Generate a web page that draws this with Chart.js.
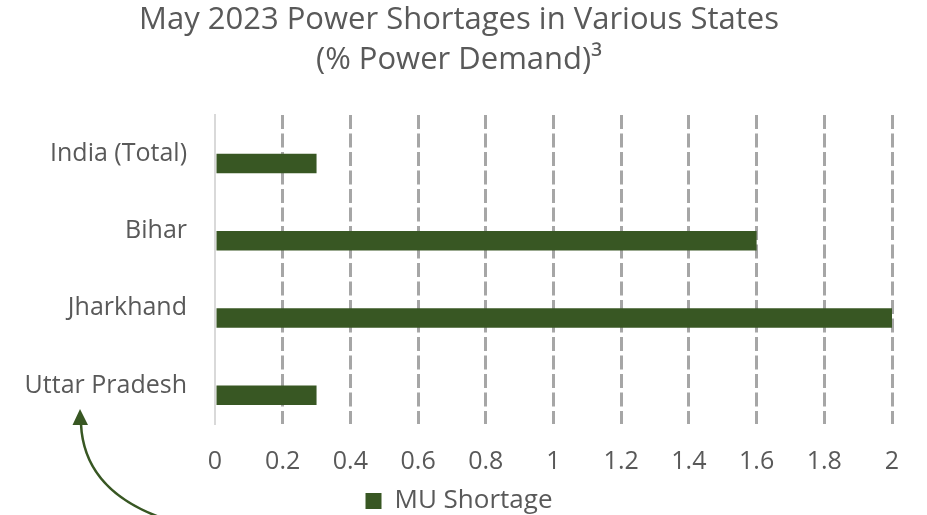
<!DOCTYPE html>
<html>
<head>
<meta charset="utf-8">
<script src="https://cdn.jsdelivr.net/npm/chart.js@4/dist/chart.umd.min.js"></script>
<style>
  html, body { margin: 0; padding: 0; background: #fff; }
  #wrap { width: 927px; height: 515px; }
</style>
</head>
<body>
<div id="wrap"><canvas id="chart" width="927" height="515"></canvas></div>
<script>
const states = ["India (Total)", "Bihar", "Jharkhand", "Uttar Pradesh"];
const shortage = [0.3, 1.6, 2.0, 0.3];
const spacer = [null, null, null, null]; // empty slot Excel leaves above each bar
const xMin = 0;
const xMax = 2;
const xStep = 0.2;
const titleLines = ["May 2023 Power Shortages in Various States", "(% Power Demand)³"];

const green = "#385723";
const textGray = "#595959";
const font = "'Open Sans', 'Noto Sans', sans-serif";

// curved arrow pointing up at the state labels
const arrowPlugin = {
  id: "arrow",
  afterDraw(chart) {
    const c = chart.ctx;
    c.save();
    c.strokeStyle = green;
    c.fillStyle = green;
    c.lineWidth = 2.5;
    c.beginPath();
    c.moveTo(81, 424);
    c.quadraticCurveTo(84, 490, 162, 518);
    c.stroke();
    c.beginPath();
    c.moveTo(80, 409);
    c.lineTo(88, 425);
    c.lineTo(72.5, 425);
    c.closePath();
    c.fill();
    c.restore();
  },
};

const ctx = document.getElementById("chart").getContext("2d");

new Chart(ctx, {
  type: "bar",
  data: {
    labels: states,
    datasets: [
      {
        label: "spacer",
        data: spacer,
        backgroundColor: "rgba(0,0,0,0)",
      },
      {
        label: "MU Shortage",
        data: shortage,
        backgroundColor: green,
      },
    ],
  },
  options: {
    indexAxis: "y",
    responsive: false,
    animation: false,
    layout: {
      padding: { left: 26, right: 35, top: 0, bottom: -9 },
    },
    datasets: {
      bar: {
        categoryPercentage: 0.508,
        barPercentage: 1,
      },
    },
    scales: {
      x: {
        min: xMin,
        max: xMax,
        ticks: {
          stepSize: xStep,
          color: textGray,
          font: { family: font, size: 25 },
          padding: 23,
          maxRotation: 0,
          callback: function (value) {
            return String(Math.round(value * 10) / 10);
          },
        },
        grid: {
          drawTicks: false,
          lineWidth: 3,
          color: function (context) {
            return context.tick && context.tick.value === 0 ? "rgba(0,0,0,0)" : "#a6a6a6";
          },
        },
        border: {
          display: false,
          dash: [14, 4.5],
        },
        afterFit: function (scale) {
          scale.height = 61;
        },
      },
      y: {
        ticks: {
          color: textGray,
          font: { family: font, size: 25 },
          padding: 28,
        },
        grid: {
          display: false,
          drawTicks: false,
        },
        border: {
          display: true,
          color: "#d9d9d9",
          width: 2,
        },
        afterFit: function (scale) {
          scale.width = 189;
        },
      },
    },
    plugins: {
      title: {
        display: true,
        text: titleLines,
        color: textGray,
        font: { family: font, size: 31, weight: "normal", lineHeight: 40 / 31 },
        padding: { top: 0, bottom: 35 },
      },
      legend: {
        position: "bottom",
        labels: {
          color: textGray,
          font: { family: font, size: 26 },
          boxWidth: 16,
          boxHeight: 16,
          padding: 3,
          filter: function (item) {
            return item.text !== "spacer";
          },
        },
      },
      tooltip: {
        enabled: false,
      },
    },
  },
  plugins: [arrowPlugin],
});
</script>
</body>
</html>
